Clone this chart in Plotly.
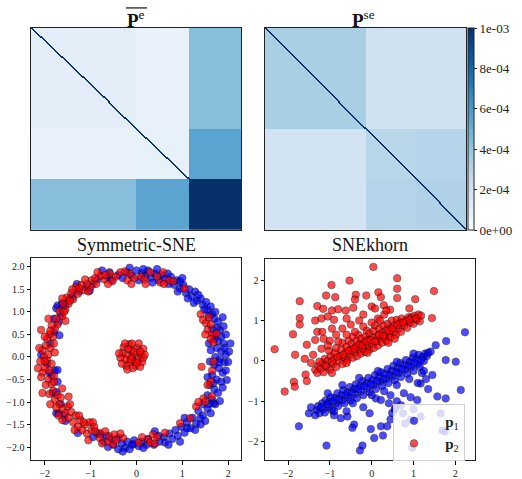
import numpy as np
import plotly.graph_objects as go

# ---------------- data ----------------
N = 200
group_fracs = [0.5, 0.25, 0.25]
pe_blocks = [[1.0e-4, 7.0e-5, 4.3e-4],
             [7.0e-5, 8.0e-5, 5.5e-4],
             [4.3e-4, 5.5e-4, 1.0e-3]]
pse_blocks = [[3.4e-4, 2.0e-4, 2.0e-4],
              [1.9e-4, 2.9e-4, 3.0e-4],
              [1.9e-4, 3.0e-4, 3.2e-4]]
diag_value = 1.2e-3
cbar_vals = [0, 2e-4, 4e-4, 6e-4, 8e-4, 1e-3]
cbar_text = ["0e+00", "2e-04", "4e-04", "6e-04", "8e-04", "1e-03"]

sym_p1 = [(-0.95,1.62),(-0.85,1.72),(-0.62,1.78),(-0.55,1.70),(-0.40,1.82),(-0.30,1.75),(-0.20,1.88),(-0.10,1.80),(0.0,1.92),(0.05,1.70),(0.12,1.86),(0.20,1.80),(0.25,1.92),(0.32,1.76),(0.40,1.85),(0.48,1.70),(0.55,1.82),(0.62,1.74),(0.70,1.62),(0.75,1.78),(0.82,1.60),(0.88,1.70),(0.95,1.52),(1.02,1.60),(1.08,1.42),(1.15,1.50),(1.20,1.35),(1.28,1.45),(1.32,1.25),(1.40,1.30),(1.45,1.15),(1.52,1.22),(1.55,1.05),(1.62,1.12),(1.65,0.95),(1.72,1.00),(1.70,0.85),(1.78,0.78),(1.75,0.65),(1.82,0.60),(1.70,0.50),(1.85,0.45),(1.78,0.35),(1.90,0.30),(2.05,0.30),(1.75,0.20),(1.85,0.12),(1.95,0.05),(1.72,0.0),(1.82,-0.05),(1.92,-0.12),(2.0,-0.11),(1.70,-0.18),(1.80,-0.25),(1.88,-0.35),(1.97,-0.51),(1.65,-0.40),(1.75,-0.50),(1.85,-0.55),(1.60,-0.62),(1.70,-0.72),(1.78,-0.80),(1.55,-0.85),(1.65,-0.95),(1.72,-1.05),(1.68,-1.03),(1.45,-1.05),(1.55,-1.15),(1.62,-1.25),(1.35,-1.20),(1.45,-1.30),(1.50,-1.42),(1.39,-1.36),(1.22,-1.35),(1.30,-1.48),(1.10,-1.45),(1.18,-1.58),(1.10,-1.58),(0.98,-1.55),(1.05,-1.68),(0.85,-1.62),(0.90,-1.75),(0.72,-1.70),(0.78,-1.82),(0.60,-1.78),(0.62,-1.90),(0.48,-1.75),(0.50,-1.88),(0.38,-1.95),(0.25,-1.82),(0.22,-1.95),(0.12,-1.88),(0.05,-1.98),(-0.05,-1.85),(-0.07,-1.94),(-0.10,-1.95),(-0.20,-1.88),(-0.25,-2.02),(-0.32,-1.92),(-0.30,-2.10),(-0.40,-1.80),(-0.50,-1.95),(-0.55,-1.82),(-0.65,-1.75),(-0.72,-1.88),(-0.85,-1.70),(-0.95,-1.78),(-1.28,-1.69),(-1.55,-1.42),(-1.70,-1.25),(-1.75,-1.25),(-1.65,-1.05),(-1.75,-0.78),(-1.83,-0.80),(-1.72,-0.55),(-1.85,-0.42),(-1.78,-0.30),(-1.72,-0.29),(-1.95,-0.15),(-1.88,0.30),(-1.80,0.55),(-1.68,0.48),(-1.70,0.78),(-1.80,0.85),(-1.65,0.95),(-1.75,1.08),(-1.72,1.14),(-1.55,1.15),(-1.45,1.30),(-1.39,1.33),(-1.25,1.45),(-1.10,1.55),(-1.02,1.47),(-1.62,1.20),(-0.59,1.88),(1.58,0.30),(1.62,0.15),(1.60,-0.10),(1.90,0.68),(1.88,-0.68),(1.35,1.38),(0.95,1.68),
(0.35,1.65),(0.15,1.95),(-0.15,1.98),(0.68,1.85),(0.90,1.45),(1.12,1.30),(1.25,1.20),(1.48,1.05),(1.58,0.92),(1.88,0.88),(1.95,0.50),(1.65,0.62),(1.92,0.20),(2.02,0.12),(1.80,-0.12),(1.95,-0.30),(1.68,-0.58),(1.82,-0.98),(1.58,-1.05),(1.40,-1.50),(1.28,-1.62),(0.95,-1.88),(0.70,-1.95),(0.40,-1.65),(0.15,-2.02),(-0.15,-2.05),(-0.40,-2.05),(-0.62,-2.0),(-0.78,-1.72),(-1.58,-1.30),(-1.90,-0.35),(-2.08,0.05),(-1.62,1.08),(-1.30,1.62),(-0.75,1.92),(0.45,1.95),(1.00,1.75),(1.70,0.40),(1.55,-0.45),(1.05,-1.35)]

sym_p2_ring = [(-0.05,1.75),(-0.15,1.85),(-0.35,1.88),(-0.45,1.78),(-0.58,1.85),(-0.70,1.72),(-0.78,1.80),(-0.88,1.62),(-0.98,1.70),(-1.00,1.55),(-1.08,1.62),(-1.15,1.48),(-1.20,1.60),(-1.28,1.40),(-1.32,1.55),(-1.38,1.28),(-1.42,1.42),(-1.48,1.18),(-1.52,1.32),(-1.55,1.05),(-1.60,1.18),(-1.62,0.90),(-1.68,1.02),(-1.72,0.72),(-1.78,0.62),(-1.85,0.70),(-1.82,0.45),(-1.90,0.50),(-1.95,0.40),(-1.88,0.20),(-1.98,0.25),(-2.05,0.15),(-1.92,0.05),(-2.02,0.0),(-2.12,0.20),(-2.10,-0.10),(-1.95,-0.08),(-2.00,-0.25),(-2.05,-0.35),(-1.90,-0.30),(-1.92,-0.50),(-1.98,-0.62),(-1.85,-0.60),(-1.82,-0.75),(-1.90,-0.82),(-1.78,-0.95),(-1.72,-0.85),(-1.68,-1.05),(-1.75,-1.12),(-1.60,-1.15),(-1.55,-1.25),(-1.50,-1.10),(-1.48,-1.35),(-1.42,-1.22),(-1.38,-1.45),(-1.32,-1.30),(-1.28,-1.55),(-1.22,-1.40),(-1.18,-1.62),(-1.12,-1.50),(-1.08,-1.70),(-1.02,-1.45),(-0.98,-1.62),(-0.92,-1.55),(-0.80,-1.69),(-0.80,-1.80),(-0.75,-1.92),(-0.62,-1.88),(-0.59,-1.76),(-0.51,-1.94),(-0.48,-1.72),(-0.45,-1.85),(-0.29,-1.80),(0.10,1.78),(0.18,1.72),(0.30,1.88),(0.45,1.78),(0.52,1.65),(0.58,1.88),(0.70,1.70),(0.80,1.68),(-0.20,1.70),(-0.11,1.62),(-0.52,1.68),(-0.68,1.82),(-0.90,1.75),(-1.05,1.45),(-1.25,1.52),(-1.45,1.25),(-1.58,1.00),(-1.75,0.85),(-1.88,0.58),(-2.0,0.45),(-1.80,0.30),(-1.85,-0.15),(-2.08,-0.45),(-1.80,-0.55),(-1.65,-0.90),(-1.45,-1.05),(-1.25,-1.30),(-1.15,-1.45),(-0.95,-1.45),(1.05,1.52),(1.40,0.95),(1.45,0.82),(1.52,0.75),(1.58,0.88),(1.62,0.72),(1.55,0.60),(1.65,0.50),(1.62,0.40),(1.68,0.32),(1.68,-0.10),(1.65,-0.30),(1.42,-0.22),(1.62,-0.55),(1.64,-0.88),(1.46,-0.92),(1.50,-1.00),(1.30,-1.10),(1.17,-1.36),(0.95,-1.47),(0.36,-1.72),(0.25,-1.83),(0.45,-1.78),(0.30,-1.90),(0.05,-1.90),(0.62,-1.68),
(-0.25,1.90),(-0.62,1.62),(-0.85,1.88),(-1.12,1.72),(-1.40,1.50),(-1.62,1.30),(-1.55,0.80),(-1.92,0.85),(-2.08,0.60),(-1.78,0.10),(-2.15,-0.25),(-1.80,-0.42),(-2.05,-0.80),(-1.62,-0.70),(-1.88,-1.05),(-1.62,-1.40),(-1.35,-1.62),(-1.05,-1.85),(-0.90,-1.65),(-0.68,-1.65),(-1.48,-0.88),(-1.70,-1.30),(0.60,1.62),(0.20,1.62),(1.50,0.50),(1.55,-0.62),(1.35,-1.0),(0.40,-1.92),(0.12,-1.78),(-0.35,-1.70),(1.75,0.52),(-2.00,-0.10)]

sym_p2_center = [(-0.10,0.00),(-0.20,0.05),(0.00,0.08),(-0.05,-0.10),(-0.15,-0.12),(0.05,-0.05),(-0.25,-0.05),(-0.30,0.10),(-0.12,0.15),(0.02,0.20),(0.10,0.05),(0.12,-0.12),(-0.02,-0.20),(-0.22,-0.20),(-0.35,-0.02),(-0.28,0.22),(-0.15,0.28),(0.05,0.30),(0.15,0.18),(-0.08,-0.25),(0.08,-0.22),(-0.32,-0.15),(-0.18,0.18),(-0.05,0.12),(0.15,-0.02),(-0.25,0.30),(-0.38,0.08),(0.00,-0.12),(-0.12,-0.05),(-0.20,-0.28),(0.18,0.05),(-0.10,0.30),(0.08,0.12)]

snk_p1 = [(-1.32,-1.22),(-1.28,-1.12),(-1.25,-1.30),(-1.18,-1.05),(-1.15,-1.20),(-1.10,-0.98),(-1.12,-1.28),(-1.02,-1.02),(-1.00,-1.15),(-0.98,-0.90),(-0.95,-1.22),(-0.88,-0.92),(-0.85,-1.05),(-0.82,-0.80),(-0.80,-1.12),(-0.72,-0.85),(-0.70,-0.98),(-0.68,-0.72),(-0.65,-1.05),(-0.58,-0.78),(-0.55,-0.90),(-0.52,-0.65),(-0.50,-0.98),(-0.42,-0.70),(-0.40,-0.82),(-0.38,-0.58),(-0.35,-0.92),(-0.28,-0.62),(-0.25,-0.75),(-0.22,-0.50),(-0.20,-0.85),(-0.12,-0.55),(-0.10,-0.68),(-0.08,-0.42),(-0.05,-0.78),(0.02,-0.48),(0.05,-0.60),(0.08,-0.35),(0.10,-0.70),(0.18,-0.40),(0.20,-0.52),(0.22,-0.28),(0.25,-0.62),(0.32,-0.32),(0.35,-0.45),(0.38,-0.20),(0.40,-0.55),(0.48,-0.25),(0.50,-0.38),(0.52,-0.12),(0.55,-0.48),(0.62,-0.18),(0.65,-0.30),(0.68,-0.05),(0.70,-0.40),(0.78,-0.10),(0.80,-0.22),(0.82,0.02),(0.85,-0.32),(0.92,-0.02),(0.95,-0.15),(0.98,0.08),(1.00,-0.25),(1.08,0.05),(1.10,-0.08),(1.12,0.15),(1.15,-0.15),(1.22,0.10),(1.25,0.00),(1.28,0.18),(1.32,0.12),(1.41,0.23),(1.53,0.39),(1.78,0.49),(2.23,0.71),
(-1.74,-1.62),(-1.08,-2.10),(-0.22,-2.10),(-0.28,-2.22),(-0.42,-1.58),(-0.46,-1.66),(-0.02,-1.69),(0.22,-1.62),(0.06,-1.91),(0.27,-1.85),(0.37,-1.62),(0.45,-1.45),(0.49,-1.29),(0.10,-0.93),(0.22,-0.97),(0.41,-1.05),(0.57,-1.17),(0.77,-0.80),(0.93,-0.90),(1.09,-0.97),(1.17,-0.56),(1.35,-0.70),(1.57,-0.88),(1.77,-0.93),(2.01,-0.02),(2.13,-0.72),(1.77,0.02),(-0.74,-1.42),(-0.58,-1.38),(0.93,-1.46),(1.17,-1.38),(1.69,-1.72),(0.97,-2.15),(1.30,-0.45),(1.10,-0.55),(0.60,-1.00),(0.55,-1.20),(-0.05,-1.30),(-0.20,-1.15),(-1.50,-1.30),(-1.45,-1.15),(0.75,-1.30),(0.80,-1.55),(1.00,-1.20),(1.45,-0.35),(1.65,-1.30),(1.75,-1.75),(-0.60,-1.25),(-0.90,-1.35),(1.25,-0.25),
(-1.20,-1.15),(-1.05,-1.08),(-0.92,-1.00),(-0.78,-0.95),(-0.62,-0.85),(-0.48,-0.78),(-0.32,-0.70),(-0.18,-0.62),(-0.02,-0.58),(0.12,-0.50),(0.28,-0.45),(0.42,-0.35),(0.58,-0.28),(0.72,-0.20),(0.88,-0.12),(1.02,-0.05),(1.18,0.02),(1.35,0.20),(-1.35,-1.35),(-0.90,-1.25),(-0.45,-1.05),(0.00,-0.85),(0.30,-0.75),(0.60,-0.60),(0.90,-0.45),(1.20,-0.30),(-0.70,-0.60),(-0.30,-0.42),(0.15,-0.25),(0.60,-0.02),(1.00,0.18),(-1.05,-0.80),(0.45,-0.85),(0.70,-1.10)]

snk_p2 = [(-1.35,-0.22),(-1.30,-0.30),(-1.28,-0.12),(-1.22,-0.20),(-1.18,-0.05),(-1.15,-0.28),(-1.12,0.05),(-1.08,-0.15),(-1.05,0.00),(-1.00,-0.22),(-0.98,0.12),(-1.02,0.25),(-0.92,-0.08),(-0.90,0.05),(-0.88,0.20),(-0.85,-0.15),(-0.85,0.32),(-0.78,0.00),(-0.75,0.12),(-0.72,0.28),(-0.70,-0.08),(-0.70,0.45),(-0.65,0.08),(-0.62,0.20),(-0.60,0.35),(-0.58,0.02),(-0.55,0.50),(-0.52,0.15),(-0.50,0.28),(-0.48,0.42),(-0.45,0.08),(-0.45,0.60),(-0.40,0.22),(-0.38,0.35),(-0.36,0.50),(-0.35,0.12),(-0.32,0.65),(-0.30,0.28),(-0.28,0.42),(-0.26,0.18),(-0.25,0.55),(-0.20,0.30),(-0.18,0.45),(-0.16,0.22),(-0.15,0.60),(-0.12,0.75),(-0.10,0.38),(-0.08,0.52),(-0.05,0.28),(-0.05,0.68),(0.00,0.42),(0.02,0.58),(0.05,0.32),(0.05,0.75),(0.08,0.88),(0.12,0.48),(0.15,0.62),(0.15,0.38),(0.18,0.80),(0.22,0.55),(0.25,0.70),(0.25,0.45),(0.28,0.88),(0.32,0.60),(0.35,0.75),(0.35,0.50),(0.38,0.92),(0.42,0.68),(0.45,0.82),(0.45,0.58),(0.48,1.00),(0.52,0.72),(0.55,0.88),(0.58,0.65),(0.60,1.02),(0.65,0.80),(0.68,0.95),(0.70,0.72),(0.72,1.05),(0.78,0.88),(0.82,1.00),(0.85,0.82),(0.88,1.08),(0.92,0.95),(0.95,1.08),(1.00,0.92),(1.02,1.12),(1.08,1.02),(1.12,1.15),(1.18,1.12),(1.15,0.98),
(0.04,2.33),(-0.53,1.99),(-0.96,1.88),(0.61,2.05),(0.61,1.79),(1.49,1.73),(-1.72,1.48),(-1.09,1.62),(-0.87,1.58),(0.61,1.56),(1.04,1.53),(0.16,1.70),(0.22,1.58),(-0.13,1.62),(-0.38,1.64),(-0.40,1.52),(-1.30,1.36),(-1.16,1.29),(-0.95,1.25),(-0.80,1.28),(-0.62,1.25),(-0.44,1.32),(0.00,1.35),(0.08,1.30),(0.29,1.38),(0.44,1.27),(1.44,1.06),(-1.72,1.06),(-1.72,0.90),(-1.88,0.66),(-2.32,0.29),(-1.83,0.15),(-1.35,1.00),(-1.20,1.05),(-1.05,1.10),(-0.90,1.02),(-1.30,0.72),(-1.18,0.72),(-1.35,0.52),(-1.15,0.55),(-1.55,0.40),(-1.60,0.05),(-1.45,-0.05),(-1.58,-0.34),(-1.55,-0.50),(-1.86,-0.52),(-1.84,-0.64),(-2.08,-0.76),(-0.70,0.80),(-0.50,0.90),(-0.30,1.00),(-0.20,1.15),(0.30,1.15),(0.15,1.05),(-0.85,0.65),(-1.00,0.50),(-0.95,0.80),(0.90,1.30),(-0.60,1.05),(0.35,1.25),
(-1.25,-0.02),(-1.10,-0.12),(-0.95,-0.02),(-0.82,0.10),(-0.68,0.15),(-0.55,0.25),(-0.42,0.30),(-0.30,0.40),(-0.22,0.38),(-0.12,0.48),(-0.02,0.52),(0.08,0.48),(0.18,0.65),(0.28,0.62),(0.40,0.75),(0.50,0.80),(0.62,0.90),(0.75,0.95),(0.90,1.02),(1.05,1.05),(-0.60,0.65),(-0.40,0.72),(-0.20,0.85),(0.00,0.95),(0.20,1.00),(-0.80,0.48),(-1.05,0.38),(-1.40,0.15),(-1.20,0.30),(0.55,0.55),(0.40,0.45),(-0.10,0.20),(-0.60,-0.05),(-0.95,-0.30)]

# ---------------- build matrices ----------------
sizes = [int(round(f * N)) for f in group_fracs]

def block_matrix(blocks):
    rows = [np.hstack([np.full((sizes[i], sizes[j]), blocks[i][j]) for j in range(3)]) for i in range(3)]
    m = np.vstack(rows)
    idx = np.arange(N)
    m[idx, idx] = diag_value
    m[idx[:-1], idx[1:]] = diag_value
    return m

Pe = block_matrix(pe_blocks)
Pse = block_matrix(pse_blocks)

blues = ["#f7fbff", "#deebf7", "#c6dbef", "#9ecae1", "#6baed6",
         "#4292c6", "#2171b5", "#08519c", "#08306b"]
colorscale = [[i / 8, c] for i, c in enumerate(blues)]

W, H = 522, 479
def px(x): return x / W
def py(y): return 1 - y / H

fig = go.Figure()
fig.add_trace(go.Heatmap(z=Pe, coloraxis="coloraxis", xaxis="x", yaxis="y", hoverinfo="skip"))
fig.add_trace(go.Heatmap(z=Pse, coloraxis="coloraxis", xaxis="x2", yaxis="y2", hoverinfo="skip"))

def pts(lst):
    return [p[0] for p in lst], [p[1] for p in lst]

mk_common = dict(size=7.5, opacity=0.7, line=dict(color="black", width=0.6))
bx, by = pts(sym_p1)
fig.add_trace(go.Scatter(x=bx, y=by, mode="markers", xaxis="x3", yaxis="y3", showlegend=False,
                         marker=dict(color="rgb(0,0,255)", **mk_common)))
rx, ry = pts(sym_p2_ring + sym_p2_center)
fig.add_trace(go.Scatter(x=rx, y=ry, mode="markers", xaxis="x3", yaxis="y3", showlegend=False,
                         marker=dict(color="rgb(255,0,0)", **mk_common)))
bx, by = pts(snk_p1)
fig.add_trace(go.Scatter(x=bx, y=by, mode="markers", xaxis="x4", yaxis="y4",
                         name="\u00a0\u00a0\u00a0<b>p</b><sub>1</sub>",
                         marker=dict(color="rgb(0,0,255)", **mk_common)))
rx, ry = pts(snk_p2)
fig.add_trace(go.Scatter(x=rx, y=ry, mode="markers", xaxis="x4", yaxis="y4",
                         name="\u00a0\u00a0\u00a0<b>p</b><sub>2</sub>",
                         marker=dict(color="rgb(255,0,0)", **mk_common)))

serif = "Liberation Serif"
frame = dict(showline=True, mirror=True, linecolor="#222", linewidth=1, showgrid=False, zeroline=False)
hm_ax = dict(frame, showticklabels=False, ticks="")
sc_ax = dict(frame, ticks="outside", ticklen=3.5, tickwidth=0.8, tickcolor="black",
             tickfont=dict(family=serif, size=10, color="#222"))

fig.update_layout(
    width=W, height=H, margin=dict(l=0, r=0, t=0, b=0),
    paper_bgcolor="white", plot_bgcolor="white",
    xaxis=dict(hm_ax, anchor="y", domain=[px(31), px(241)], range=[-0.5, N - 0.5]),
    yaxis=dict(hm_ax, anchor="x", domain=[py(232), py(28)], range=[N - 0.5, -0.5]),
    xaxis2=dict(hm_ax, anchor="y2", domain=[px(265), px(466)], range=[-0.5, N - 0.5]),
    yaxis2=dict(hm_ax, anchor="x2", domain=[py(232), py(28)], range=[N - 0.5, -0.5]),
    xaxis3=dict(sc_ax, anchor="y3", domain=[px(31), px(241)], range=[-2.3, 2.28], tickvals=[-2, -1, 0, 1, 2]),
    yaxis3=dict(sc_ax, anchor="x3", domain=[py(464), py(260)], range=[-2.29, 2.2],
                tickvals=[-2, -1.5, -1, -0.5, 0, 0.5, 1, 1.5, 2], tickformat=".1f"),
    xaxis4=dict(sc_ax, anchor="y4", domain=[px(265), px(475)], range=[-2.55, 2.47], tickvals=[-2, -1, 0, 1, 2]),
    yaxis4=dict(sc_ax, anchor="x4", domain=[py(464), py(261)], range=[-2.46, 2.53], tickvals=[-2, -1, 0, 1, 2]),
    coloraxis=dict(cmin=0, cmax=1e-3, colorscale=colorscale,
                   colorbar=dict(x=px(468), xanchor="left", y=py(232), yanchor="bottom",
                                 len=204 / H, lenmode="fraction", thickness=6, thicknessmode="pixels",
                                 outlinewidth=1, outlinecolor="#222", ticks="outside", ticklen=3,
                                 tickcolor="#222", tickvals=cbar_vals, ticktext=cbar_text,
                                 tickfont=dict(family=serif, size=13, color="#222"), xpad=0, ypad=0)),
    legend=dict(x=px(393), y=py(407), xanchor="left", yanchor="top",
                bgcolor="rgba(255,255,255,0.8)", bordercolor="#d0d0d0", borderwidth=1,
                font=dict(family=serif, size=15, color="#222"), itemwidth=30, tracegroupgap=0),
    showlegend=True,
)

titles = [
    ("<b>P</b><sup>e</sup>", px(136), py(19), 19),
    ("<b>P</b><sup>se</sup>", px(363), py(19), 19),
    ("Symmetric-SNE", px(136), py(247), 18),
    ("SNEkhorn", px(370), py(247), 18),
]
for text, x, y, s in titles:
    fig.add_annotation(text=text, x=x, y=y, xref="paper", yref="paper", xanchor="center",
                       yanchor="middle", showarrow=False, font=dict(family=serif, size=s, color="#111"))
fig.add_shape(type="line", xref="paper", yref="paper", x0=px(126), x1=px(147), y0=py(8), y1=py(8),
              line=dict(color="#111", width=1.2))

fig.write_html("out.html", config={"displayModeBar": False},
               post_script="document.body.style.margin='0px';")
